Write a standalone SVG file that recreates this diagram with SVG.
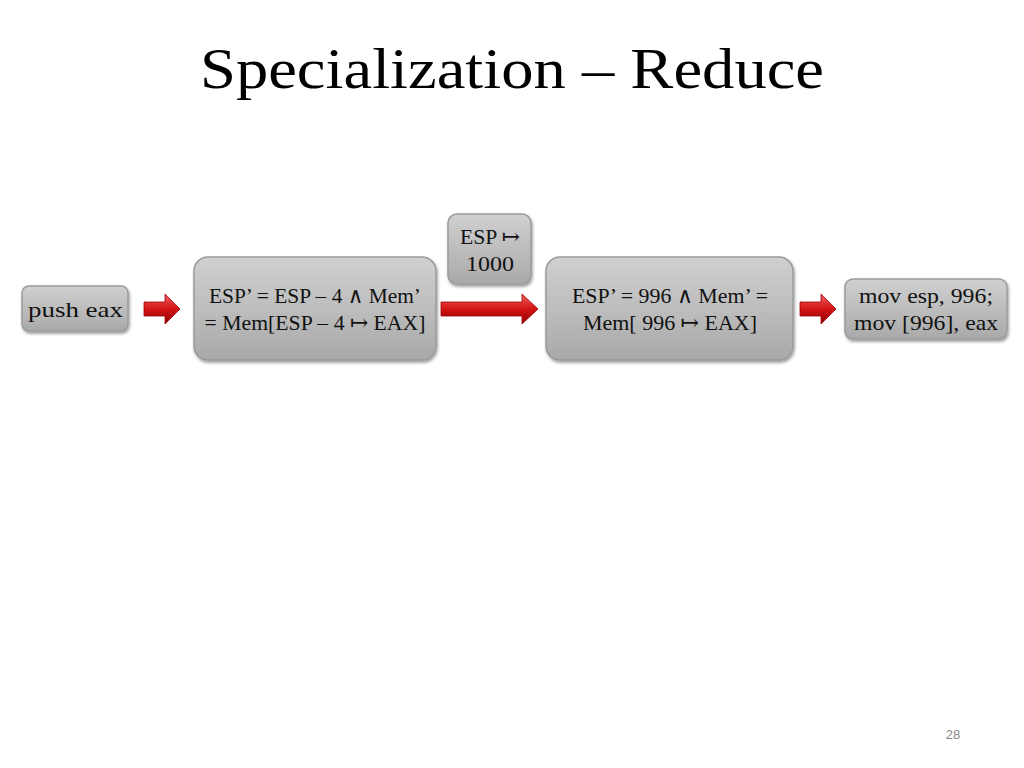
<svg xmlns="http://www.w3.org/2000/svg" width="1024" height="768" viewBox="0 0 1024 768">
<defs>
<linearGradient id="g" x1="0" y1="0" x2="0" y2="1"><stop offset="0" stop-color="#d0d0d0"/><stop offset="0.5" stop-color="#bdbdbd"/><stop offset="1" stop-color="#a9a9a9"/></linearGradient>
<linearGradient id="r" x1="0" y1="0" x2="0" y2="1"><stop offset="0" stop-color="#f06060"/><stop offset="0.5" stop-color="#d41414"/><stop offset="1" stop-color="#8e0000"/></linearGradient>
<filter id="s" x="-10%" y="-10%" width="130%" height="140%"><feDropShadow dx="1" dy="2" stdDeviation="1.5" flood-opacity="0.4"/></filter>
</defs>
<style>
.b{fill:url(#g);stroke:#9a9a9a;stroke-width:1.5;filter:url(#s)}
.t{font-family:"Liberation Serif","DejaVu Serif",serif;font-size:22px;fill:#111;text-anchor:middle}
.a{fill:url(#r);stroke:#a00000;stroke-width:0.8}
</style>
<rect width="1024" height="768" fill="#fff"/>
<text x="512" y="88" font-family="'Liberation Serif','DejaVu Serif',serif" font-size="57" text-anchor="middle" fill="#000" textLength="624" lengthAdjust="spacingAndGlyphs">Specialization – Reduce</text>
<g id="connectors">
<polygon class="a" points="144,302 165,302 165,294 180,309 165,324 165,316 144,316"/>
<polygon class="a" points="441,302 522,302 522,294 538,309 522,324 522,316 441,316"/>
<polygon class="a" points="800,302 821,302 821,294 836,309 821,324 821,316 800,316"/>
</g>
<g id="n1"><rect class="b" x="22" y="286" width="106" height="45" rx="7"/><text class="t" x="75.5" y="317" textLength="95" lengthAdjust="spacingAndGlyphs">push eax</text></g>
<g id="n2"><rect class="b" x="194" y="257" width="242" height="103" rx="14"/><text class="t" x="315" y="303" textLength="212" lengthAdjust="spacingAndGlyphs">ESP’ = ESP – 4 ∧ Mem’</text><text class="t" x="315" y="330" textLength="221" lengthAdjust="spacingAndGlyphs">= Mem[ESP – 4 ↦ EAX]</text></g>
<g id="n3"><rect class="b" x="448" y="214" width="83" height="70" rx="9"/><text class="t" x="490" y="244" textLength="60" lengthAdjust="spacingAndGlyphs">ESP ↦</text><text class="t" x="490" y="271" textLength="48" lengthAdjust="spacingAndGlyphs">1000</text></g>
<g id="n4"><rect class="b" x="546" y="257" width="247" height="103" rx="14"/><text class="t" x="670" y="303" textLength="196" lengthAdjust="spacingAndGlyphs">ESP’ = 996 ∧ Mem’ =</text><text class="t" x="670" y="330" textLength="174" lengthAdjust="spacingAndGlyphs">Mem[ 996 ↦ EAX]</text></g>
<g id="n5"><rect class="b" x="845" y="279" width="162" height="60" rx="8"/><text class="t" x="926" y="303" textLength="134" lengthAdjust="spacingAndGlyphs">mov esp, 996;</text><text class="t" x="926" y="330" textLength="144" lengthAdjust="spacingAndGlyphs">mov [996], eax</text></g>
<text x="953" y="739" font-family="'Liberation Sans',sans-serif" font-size="13" fill="#888" text-anchor="middle">28</text>
</svg>
